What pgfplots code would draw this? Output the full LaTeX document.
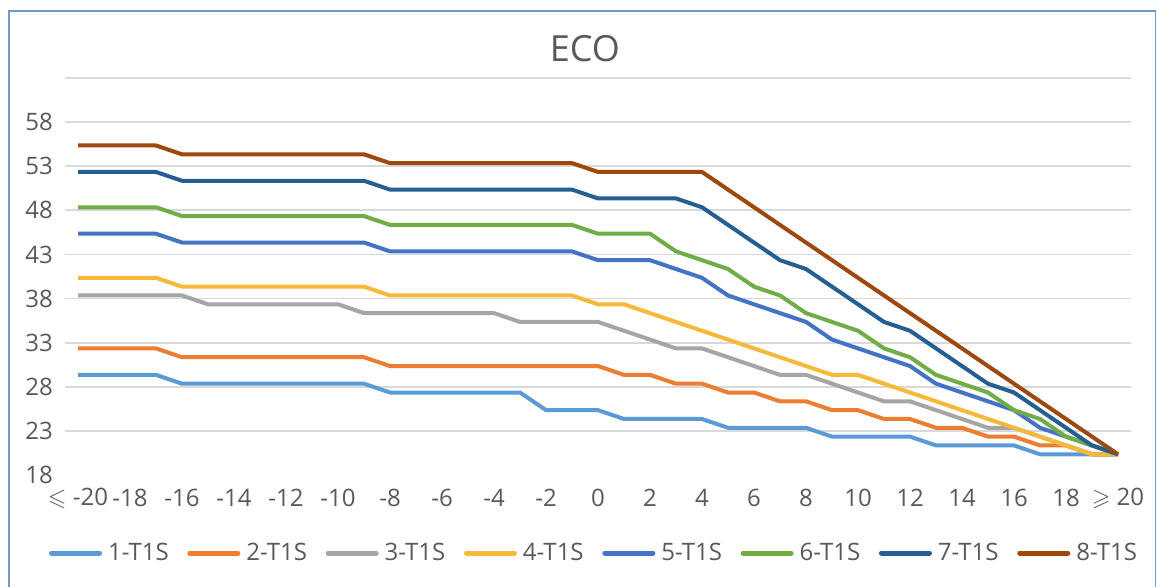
\documentclass[border=0pt]{standalone}
\usepackage{amssymb}
\usepackage{pgfplots}
\pgfplotsset{compat=1.18}
\usepackage{pgfplotstable}
\usepackage{fontspec}
\setmainfont{Open Sans}

\definecolor{c1}{HTML}{5B9BD5}
\definecolor{c2}{HTML}{ED7D31}
\definecolor{c3}{HTML}{A5A5A5}
\definecolor{c4}{HTML}{F7B93A}
\definecolor{c5}{HTML}{4472C4}
\definecolor{c6}{HTML}{70AD47}
\definecolor{c7}{HTML}{255E91}
\definecolor{c8}{HTML}{9E480E}
\definecolor{tc}{HTML}{595959}
\definecolor{gridc}{HTML}{D9D9D9}
\definecolor{framec}{HTML}{6C9BCB}

\pgfplotstableread{
x s1 s2 s3 s4 s5 s6 s7 s8
-20 29.35 32.35 38.35 40.35 45.35 48.35 52.35 55.35
-19 29.35 32.35 38.35 40.35 45.35 48.35 52.35 55.35
-18 29.35 32.35 38.35 40.35 45.35 48.35 52.35 55.35
-17 29.35 32.35 38.35 40.35 45.35 48.35 52.35 55.35
-16 28.35 31.35 38.35 39.35 44.35 47.35 51.35 54.35
-15 28.35 31.35 37.35 39.35 44.35 47.35 51.35 54.35
-14 28.35 31.35 37.35 39.35 44.35 47.35 51.35 54.35
-13 28.35 31.35 37.35 39.35 44.35 47.35 51.35 54.35
-12 28.35 31.35 37.35 39.35 44.35 47.35 51.35 54.35
-11 28.35 31.35 37.35 39.35 44.35 47.35 51.35 54.35
-10 28.35 31.35 37.35 39.35 44.35 47.35 51.35 54.35
-9 28.35 31.35 36.35 39.35 44.35 47.35 51.35 54.35
-8 27.35 30.35 36.35 38.35 43.35 46.35 50.35 53.35
-7 27.35 30.35 36.35 38.35 43.35 46.35 50.35 53.35
-6 27.35 30.35 36.35 38.35 43.35 46.35 50.35 53.35
-5 27.35 30.35 36.35 38.35 43.35 46.35 50.35 53.35
-4 27.35 30.35 36.35 38.35 43.35 46.35 50.35 53.35
-3 27.35 30.35 35.35 38.35 43.35 46.35 50.35 53.35
-2 25.35 30.35 35.35 38.35 43.35 46.35 50.35 53.35
-1 25.35 30.35 35.35 38.35 43.35 46.35 50.35 53.35
0 25.35 30.35 35.35 37.35 42.35 45.35 49.35 52.35
1 24.35 29.35 34.35 37.35 42.35 45.35 49.35 52.35
2 24.35 29.35 33.35 36.35 42.35 45.35 49.35 52.35
3 24.35 28.35 32.35 35.35 41.35 43.35 49.35 52.35
4 24.35 28.35 32.35 34.35 40.35 42.35 48.35 52.35
5 23.35 27.35 31.35 33.35 38.35 41.35 46.35 50.35
6 23.35 27.35 30.35 32.35 37.35 39.35 44.35 48.35
7 23.35 26.35 29.35 31.35 36.35 38.35 42.35 46.35
8 23.35 26.35 29.35 30.35 35.35 36.35 41.35 44.35
9 22.35 25.35 28.35 29.35 33.35 35.35 39.35 42.35
10 22.35 25.35 27.35 29.35 32.35 34.35 37.35 40.35
11 22.35 24.35 26.35 28.35 31.35 32.35 35.35 38.35
12 22.35 24.35 26.35 27.35 30.35 31.35 34.35 36.35
13 21.35 23.35 25.35 26.35 28.35 29.35 32.35 34.35
14 21.35 23.35 24.35 25.35 27.35 28.35 30.35 32.35
15 21.35 22.35 23.35 24.35 26.35 27.35 28.35 30.35
16 21.35 22.35 23.35 23.35 25.35 25.35 27.35 28.35
17 20.35 21.35 22.35 22.35 23.35 24.35 25.35 26.35
18 20.35 21.35 21.35 21.35 22.35 22.35 23.35 24.35
19 20.35 20.35 20.35 20.35 21.35 21.35 21.35 22.35
20 20.35 20.35 20.35 20.35 20.35 20.35 20.35 20.35
}\data

\begin{document}
\begin{tikzpicture}
\useasboundingbox (0,0) rectangle (867.75pt,439.5pt);
\fill[white] (0,0) rectangle (867.75pt,439.5pt);
\draw[framec, line width=1.6pt] (6.75pt,-2pt) -- (6.75pt,431.25pt) -- (866.8pt,431.25pt);
\draw[framec, line width=0.8pt] (866.8pt,431.25pt) -- (866.8pt,-2pt);
\node[font=\fontsize{27}{30}\selectfont, text=tc] at (438.75pt,402.75pt) {ECO};
\begin{axis}[
  at={(48.75pt,83.25pt)}, anchor=south west,
  scale only axis, width=799.5pt, height=297.75pt,
  xmin=-20.5, xmax=20.5, ymin=18, ymax=63,
  axis line style={draw=none}, tick style={draw=none},
  major tick length=0pt,
  xtick={-20,-18,...,20},
  xticklabels={{$\leqslant$ -20},-18,-16,-14,-12,-10,-8,-6,-4,-2,0,2,4,6,8,10,12,14,16,18,{$\geqslant$ 20}},
  ytick={23,28,...,63},
  yticklabels={23,28,33,38,43,48,53,58,{}},
  extra y ticks={18}, extra y tick labels={18},
  extra y tick style={grid=none},
  ymajorgrids,
  major grid style={draw=gridc, line width=1.3pt},
  ticklabel style={font=\fontsize{18}{20}\selectfont, text=tc},
  yticklabel style={anchor=east, inner sep=0pt, xshift=-9pt},
  xticklabel style={anchor=center, inner sep=0pt, yshift=-17.25pt},
  /pgf/number format/assume math mode=true,
  legend columns=8,
  legend style={at={(0.4953,-0.1965)}, anchor=center, draw=none, fill=none,
    font=\fontsize{18}{20}\selectfont, text=tc,
    nodes={inner sep=0pt},
    /tikz/every odd column/.append style={column sep=4.5pt},
    /tikz/every even column/.append style={column sep=14pt}},
  legend image code/.code={\draw[#1, line width=3.75pt, line cap=round] (1.9pt,0pt) -- (37.9pt,0pt);},
  every axis plot/.append style={line width=3pt, line join=round, mark=none},
]
\addplot[c1] table[x=x,y=s1]{\data};
\addplot[c2] table[x=x,y=s2]{\data};
\addplot[c3] table[x=x,y=s3]{\data};
\addplot[c4] table[x=x,y=s4]{\data};
\addplot[c5] table[x=x,y=s5]{\data};
\addplot[c6] table[x=x,y=s6]{\data};
\addplot[c7] table[x=x,y=s7]{\data};
\addplot[c8] table[x=x,y=s8]{\data};
\legend{1-T1S,2-T1S,3-T1S,4-T1S,5-T1S,6-T1S,7-T1S,8-T1S}
\end{axis}
\end{tikzpicture}
\end{document}
